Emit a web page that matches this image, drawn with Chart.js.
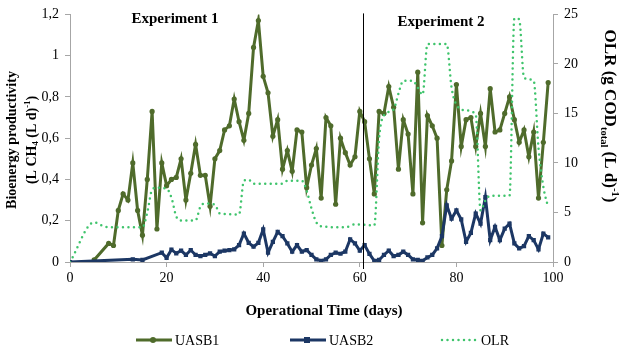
<!DOCTYPE html>
<html>
<head>
<meta charset="utf-8">
<script src="https://cdn.jsdelivr.net/npm/chart.js@4.4.1/dist/chart.umd.min.js"></script>
<style>
html, body { margin: 0; padding: 0; background: #fff; }
#wrap { width: 624px; height: 348px; position: relative; }
</style>
</head>
<body>
<div id="wrap"><canvas id="myChart" width="624" height="348"></canvas></div>
<script>
// bioenergy productivity, L CH4 (L d)-1
var uasb1Days = [5, 8, 9, 10, 11, 12, 13, 14, 15, 16, 17, 18, 19, 20, 21, 22, 23, 24, 25, 26, 27, 28, 29, 30,
    31, 32, 33, 34, 35, 36, 37, 38, 39, 40, 41, 42, 43, 44, 45, 46, 47, 48, 49, 50, 51, 52, 53, 54, 55, 56,
    57, 58, 59, 60, 61, 62, 63, 64, 65, 66, 67, 68, 69, 70, 71, 72, 73, 74, 75, 76, 77, 78, 79, 80, 81, 82,
    83, 84, 85, 86, 87, 88, 89, 90, 91, 92, 93, 94, 95, 96, 97, 98, 99];
var uasb1Values = [0.01, 0.09, 0.08, 0.25, 0.33, 0.30, 0.48, 0.25, 0.13, 0.40, 0.73, 0.16, 0.48, 0.37, 0.40, 0.41,
    0.50, 0.30, 0.43, 0.57, 0.42, 0.42, 0.27, 0.50, 0.54, 0.64, 0.66, 0.79, 0.68, 0.59, 0.72, 1.04, 1.17, 0.90,
    0.82, 0.61, 0.69, 0.45, 0.54, 0.44, 0.64, 0.63, 0.36, 0.47, 0.55, 0.31, 0.70, 0.66, 0.28, 0.60, 0.53, 0.47,
    0.51, 0.73, 0.68, 0.50, 0.33, 0.73, 0.72, 0.85, 0.75, 0.45, 0.69, 0.62, 0.33, 0.92, 0.19, 0.71, 0.66, 0.60,
    0.08, 0.35, 0.49, 0.86, 0.56, 0.69, 0.70, 0.56, 0.72, 0.56, 0.84, 0.63, 0.64, 0.72, 0.80, 0.69, 0.58, 0.64,
    0.51, 0.63, 0.31, 0.58, 0.87];

var uasb2Days = [0, 13, 15, 19, 20, 21, 22, 23, 24, 25, 26, 27, 28, 29, 30, 31, 32, 33, 34, 35, 36, 37, 38, 39,
    40, 41, 42, 43, 44, 45, 46, 47, 48, 49, 50, 51, 52, 53, 54, 55, 56, 57, 58, 59, 60, 61, 62, 63, 64, 65,
    66, 67, 68, 69, 70, 71, 72, 73, 74, 75, 76, 77, 78, 79, 80, 81, 82, 83, 84, 85, 86, 87, 88, 89, 90, 91,
    92, 93, 94, 95, 96, 97, 98, 99];
var uasb2Values = [0, 0.013, 0.01, 0.045, 0.02, 0.06, 0.042, 0.055, 0.034, 0.058, 0.034, 0.029, 0.034, 0.042,
    0.029, 0.05, 0.055, 0.058, 0.061, 0.082, 0.138, 0.093, 0.074, 0.093, 0.158, 0.045, 0.098, 0.146, 0.125,
    0.09, 0.05, 0.082, 0.05, 0.058, 0.034, 0.013, 0.006, 0.013, 0.034, 0.045, 0.04, 0.05, 0.11, 0.09, 0.055,
    0.082, 0.039, 0.006, 0.01, 0.034, 0.055, 0.029, 0.034, 0.05, 0.034, 0.013, 0.01, 0.006, 0.022, 0.034,
    0.066, 0.125, 0.275, 0.21, 0.25, 0.206, 0.098, 0.141, 0.235, 0.186, 0.315, 0.106, 0.17, 0.106, 0.162,
    0.186, 0.09, 0.066, 0.077, 0.125, 0.106, 0.061, 0.138, 0.119];

// organic loading rate, g COD total (L d)-1
var olrDays = [0, 5, 7, 9, 15, 16, 17, 18, 20, 21, 22, 23, 26, 27, 28, 30, 31, 35, 36, 37, 38, 44, 45, 48, 49,
    50, 51, 52, 57, 59, 63, 64, 65, 67, 68, 69, 71, 72, 73, 74, 78, 79, 80, 82, 84, 85, 86, 87, 91, 92, 93,
    94, 96, 97, 98, 99];
var olrValues = [0, 4.0, 3.6, 3.5, 3.5, 5.0, 7.3, 7.5, 7.4, 6.5, 4.6, 4.2, 4.2, 5.6, 5.9, 5.8, 4.9, 4.8, 8.2,
    8.3, 7.9, 7.9, 8.2, 8.2, 7.2, 5.4, 4.0, 3.6, 3.5, 3.8, 3.7, 12.5, 14.8, 15.4, 17.0, 18.3, 18.3, 17.6, 16.9,
    22.0, 22.0, 17.6, 15.9, 15.3, 14.9, 5.2, 6.2, 6.7, 6.7, 24.6, 24.5, 18.6, 18.3, 11.5, 7.6, 5.5];

var seriesNames = ['UASB1', 'UASB2', 'OLR'];
var xTickLabels = ['0', '20', '40', '60', '80', '100'];
var yTickLabels = ['0', '0,2', '0,4', '0,6', '0,8', '1', '1,2'];
var y2TickLabels = ['0', '5', '10', '15', '20', '25'];
var experimentLabels = ['Experiment 1', 'Experiment 2'];
var experimentSplitDay = 60.7;

var green = '#4f6b2b';
var navy = '#1c3764';
var olrGreen = '#3fc46c';
var serif = '"Liberation Serif", "Times New Roman", serif';

function toPoints(xs, ys) {
    var pts = [];
    for (var i = 0; i < xs.length; i++) pts.push({ x: xs[i], y: ys[i] });
    return pts;
}

// text with sub/superscript pieces, optionally rotated
function drawRich(ctx, parts, x, y, angle, size) {
    ctx.save();
    ctx.translate(x, y);
    ctx.rotate(angle);
    ctx.textAlign = 'left';
    ctx.textBaseline = 'middle';
    ctx.fillStyle = '#000';
    var widths = [];
    var total = 0;
    parts.forEach(function (p) {
        ctx.font = 'bold ' + (p.s ? size * 0.62 : size) + 'px ' + serif;
        var w = ctx.measureText(p.t).width;
        widths.push(w);
        total += w;
    });
    var cx = -total / 2;
    parts.forEach(function (p, i) {
        ctx.font = 'bold ' + (p.s ? size * 0.62 : size) + 'px ' + serif;
        var dy = p.s === 'sub' ? size * 0.3 : (p.s === 'sup' ? -size * 0.32 : 0);
        ctx.fillText(p.t, cx, dy);
        cx += widths[i];
    });
    ctx.restore();
}

var decor = {
    id: 'decor',
    afterDraw: function (chart) {
        var ctx = chart.ctx;
        var area = chart.chartArea;
        var xs = chart.scales.x;

        // split line between the two experiments
        var sx = Math.round(xs.getPixelForValue(experimentSplitDay)) + 0.5;
        ctx.save();
        ctx.strokeStyle = '#000';
        ctx.lineWidth = 1;
        ctx.beginPath();
        ctx.moveTo(sx, area.top - 1);
        ctx.lineTo(sx, area.bottom + 7);
        ctx.stroke();

        ctx.fillStyle = '#000';
        ctx.font = 'bold 15px ' + serif;
        ctx.textAlign = 'center';
        ctx.textBaseline = 'middle';
        ctx.fillText(experimentLabels[0], 175, 19);
        ctx.fillText(experimentLabels[1], 441, 22);

        ctx.fillText('Operational Time (days)', 324, 311);
        ctx.restore();

        drawRich(ctx, [{ t: 'Bioenergy productivity' }], 12, 140, -Math.PI / 2, 14);
        drawRich(ctx, [{ t: '(L CH' }, { t: '4', s: 'sub' }, { t: ' (L d)' }, { t: '-1', s: 'sup' }, { t: ')' }],
            32, 140, -Math.PI / 2, 14);
        drawRich(ctx, [{ t: 'OLR (g COD' }, { t: 'total', s: 'sub' }, { t: ' (L d)' }, { t: '-1', s: 'sup' }, { t: ')' }],
            609, 116, Math.PI / 2, 17);

        // legend
        var ly = 340;
        var items = [
            { x: 134, color: green, marker: 'circle' },
            { x: 288, color: navy, marker: 'rect' },
            { x: 440, color: olrGreen, marker: 'dots' }
        ];
        ctx.save();
        items.forEach(function (it, i) {
            ctx.strokeStyle = it.color;
            ctx.fillStyle = it.color;
            if (it.marker === 'dots') {
                ctx.lineWidth = 2.5;
                ctx.lineCap = 'round';
                ctx.setLineDash([0, 5.5]);
            } else {
                ctx.lineWidth = 3;
                ctx.lineCap = 'butt';
                ctx.setLineDash([]);
            }
            ctx.beginPath();
            ctx.moveTo(it.x + 2, ly);
            ctx.lineTo(it.x + 38, ly);
            ctx.stroke();
            ctx.setLineDash([]);
            if (it.marker === 'circle') {
                ctx.beginPath();
                ctx.arc(it.x + 19, ly, 3, 0, Math.PI * 2);
                ctx.fill();
            } else if (it.marker === 'rect') {
                ctx.fillRect(it.x + 16, ly - 3, 6, 6);
            }
            ctx.fillStyle = '#000';
            ctx.font = '14px ' + serif;
            ctx.textAlign = 'left';
            ctx.textBaseline = 'middle';
            ctx.fillText(seriesNames[i], it.x + 41, ly + 1);
        });
        ctx.restore();
    }
};

var tickFont = { family: serif, size: 14 };

var ctx = document.getElementById('myChart').getContext('2d');
var myChart = new Chart(ctx, {
    type: 'line',
    data: {
        datasets: [{
            label: seriesNames[0],
            data: toPoints(uasb1Days, uasb1Values),
            yAxisID: 'y',
            borderColor: green,
            backgroundColor: green,
            borderWidth: 3,
            pointRadius: 2.6,
            pointBorderWidth: 0,
            pointStyle: 'circle',
            tension: 0,
            order: 2
        }, {
            label: seriesNames[1],
            data: toPoints(uasb2Days, uasb2Values),
            yAxisID: 'y',
            borderColor: navy,
            backgroundColor: navy,
            borderWidth: 3,
            pointRadius: 3,
            pointBorderWidth: 0,
            pointStyle: 'rect',
            tension: 0,
            order: 1
        }, {
            label: seriesNames[2],
            data: toPoints(olrDays, olrValues),
            yAxisID: 'y2',
            borderColor: olrGreen,
            borderWidth: 2.5,
            borderDash: [0, 5.5],
            borderCapStyle: 'round',
            pointRadius: 0,
            cubicInterpolationMode: 'monotone',
            order: 0
        }]
    },
    options: {
        responsive: false,
        animation: false,
        layout: { padding: { top: 13, left: 0, right: 0, bottom: 0 } },
        plugins: {
            legend: { display: false },
            tooltip: { enabled: false }
        },
        scales: {
            x: {
                type: 'linear',
                min: 0,
                max: 100,
                ticks: {
                    stepSize: 20,
                    color: '#000',
                    font: tickFont,
                    padding: 3,
                    maxRotation: 0,
                    callback: function (v, i) { return xTickLabels[i]; }
                },
                grid: { drawOnChartArea: false, tickLength: 5, color: '#a6a6a6' },
                border: { color: '#a6a6a6' },
                afterFit: function (s) { s.height = 86; }
            },
            y: {
                position: 'left',
                min: 0,
                max: 1.2,
                ticks: {
                    stepSize: 0.2,
                    color: '#000',
                    font: tickFont,
                    padding: 6,
                    callback: function (v, i) { return yTickLabels[i]; }
                },
                grid: { drawOnChartArea: false, tickLength: 5, color: '#a6a6a6' },
                border: { color: '#a6a6a6' },
                afterFit: function (s) { s.width = 70; }
            },
            y2: {
                position: 'right',
                min: 0,
                max: 25,
                ticks: {
                    stepSize: 5,
                    color: '#000',
                    font: tickFont,
                    padding: 6,
                    callback: function (v, i) { return y2TickLabels[i]; }
                },
                grid: { drawOnChartArea: false, tickLength: 5, color: '#a6a6a6' },
                border: { color: '#a6a6a6' },
                afterFit: function (s) { s.width = 71; }
            }
        }
    },
    plugins: [decor]
});
</script>
</body>
</html>
